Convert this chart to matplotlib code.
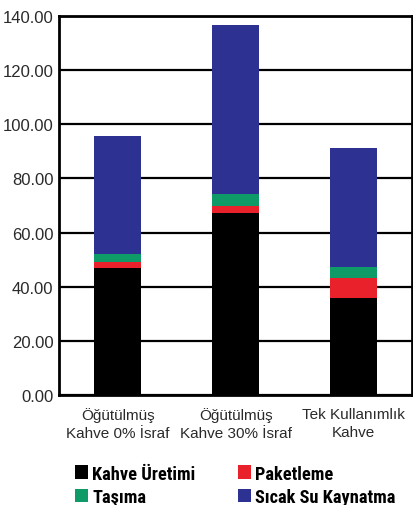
import numpy as np
import matplotlib.pyplot as plt
from matplotlib import font_manager

# values
categories = ["Öğütülmüş\nKahve 0% İsraf", "Öğütülmüş\nKahve 30% İsraf", "Tek Kullanımlık\nKahve"]
uretim = [47.0, 67.2, 36.0]
paketleme = [2.0, 2.5, 7.2]
tasima = [3.1, 4.6, 4.0]
kaynatma = [43.6, 62.5, 43.9]
series_names = ["Kahve Üretimi", "Paketleme", "Taşıma", "Sıcak Su Kaynatma"]
colors = ["#000000", "#e8212b", "#0e9b68", "#2d3192"]
yticks = [0, 20, 40, 60, 80, 100, 120, 140]

# pick a narrow bold face for the legend if there is one
installed = {f.name for f in font_manager.fontManager.ttflist}
leg_family = "DejaVu Sans"
for cand in ["Roboto Condensed", "Open Sans Condensed", "Liberation Sans Narrow",
             "DejaVu Sans Condensed", "Liberation Sans"]:
    if cand in installed:
        leg_family = cand
        break

fig = plt.figure(figsize=(4.14, 5.06), dpi=100)
ax = fig.add_axes([0.1425, 0.2174, 0.853, 0.749])

# size the legend font so "Kahve Üretimi" is ~104 px wide like the reference
probe = fig.text(0, 0, series_names[0], family=leg_family, weight="bold", size=14)
fig.canvas.draw()
w = probe.get_window_extent().width
probe.remove()
leg_size = min(15, 14 * 104 / w)

x = np.arange(len(categories))
bottom = np.zeros(len(categories))
handles = []
for vals, name, col in zip([uretim, paketleme, tasima, kaynatma], series_names, colors):
    b = ax.bar(x, vals, width=0.40, bottom=bottom, color=col, label=name, zorder=3)
    handles.append(b)
    bottom += np.array(vals)

ax.set_xlim(-0.5, 2.5)
ax.set_ylim(0, 140)
ax.set_yticks(yticks)
ax.set_yticklabels([f"{v:.2f}" for v in yticks], fontsize=12, color="#2a2a2a",
                   family=["Liberation Sans", "DejaVu Sans"])
ax.set_xticks(x)
ax.set_xticklabels(categories, fontsize=11, color="#2a2a2a", linespacing=1.3,
                   family=["Liberation Sans", "DejaVu Sans"])
ax.tick_params(axis="both", length=0, pad=4)
ax.tick_params(axis="x", pad=9)
ax.yaxis.grid(True, color="black", linewidth=1.6, zorder=1)
ax.set_axisbelow(True)
for sp in ax.spines.values():
    sp.set_linewidth(2)
    sp.set_color("black")

# legend in two columns, order as in reference
order = [0, 2, 1, 3]
leg = fig.legend([handles[i] for i in order], [series_names[i] for i in order],
                 ncol=2, loc="upper left", bbox_to_anchor=(0.18, 0.080),
                 frameon=False, borderpad=0, borderaxespad=0,
                 handlelength=0.75, handleheight=0.75, handletextpad=0.2,
                 columnspacing=2.3, labelspacing=0.3,
                 prop={"family": [leg_family, "DejaVu Sans"],
                       "weight": "bold", "size": leg_size})

fig.savefig("out.png", dpi=100)
